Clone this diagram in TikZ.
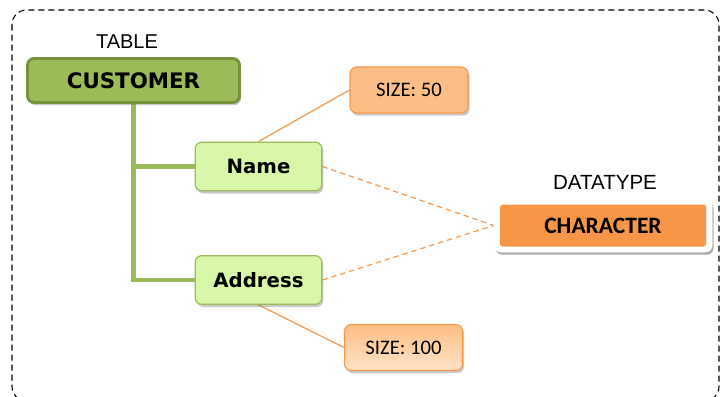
\documentclass[tikz,border=0pt]{standalone}
\usepackage{fontspec}
\setmainfont{Liberation Sans}
\newfontfamily\boxfont{DejaVu Sans}
\newfontfamily\calfont{Carlito}
\usetikzlibrary{shadows,backgrounds}
\definecolor{olgreen}{HTML}{9BBB59}
\definecolor{dkgreen}{HTML}{76923C}
\definecolor{ltgreen}{HTML}{D8F7A8}
\definecolor{orangeB}{HTML}{F79646}
\definecolor{peach}{HTML}{FDBE85}
\definecolor{peachlt}{HTML}{FFE3C8}
\tikzset{
  x=0.75pt, y=-0.75pt,
  shad/.style={drop shadow={shadow xshift=1.2pt, shadow yshift=-2pt, opacity=0.35, fill=black!60}},
  custbox/.style={draw=dkgreen, line width=2.2pt, fill=olgreen, rounded corners=5pt,
    minimum width=159pt, minimum height=33pt, inner sep=0pt, shad,
    font=\boxfont\bfseries\fontsize{16}{18}\selectfont},
  fieldbox/.style={draw=olgreen, line width=0.9pt, fill=ltgreen, rounded corners=5pt,
    minimum width=95pt, minimum height=36.5pt, inner sep=0pt, shad,
    font=\boxfont\bfseries\fontsize{14.8}{17}\selectfont},
  sizebox/.style={draw=orangeB, line width=0.8pt, rounded corners=5pt,
    minimum width=88.5pt, minimum height=34.5pt, inner sep=0pt, shad,
    font=\calfont\fontsize{15.5}{17}\selectfont},
  outerbox/.style={draw=white, fill=white, rounded corners=5pt,
    minimum width=163.5pt, minimum height=39.75pt, inner sep=0pt,
    drop shadow={shadow xshift=1.2pt, shadow yshift=-2pt, opacity=0.45, fill=black!70}},
  innerbox/.style={fill=orangeB, rounded corners=2pt, minimum width=154.5pt, minimum height=31.5pt,
    inner sep=0pt, font=\calfont\bfseries\fontsize{17.6}{19}\selectfont},
  lbl/.style={font=\fontsize{15.4}{17}\selectfont, inner sep=0pt},
  trunk/.style={draw=olgreen, line width=3.6pt},
  oline/.style={draw=orangeB, line width=0.9pt},
  odash/.style={draw=orangeB, line width=0.9pt, dash pattern=on 4pt off 3pt},
}
\begin{document}
\begin{tikzpicture}
\useasboundingbox (0,0) rectangle (720,396);
\begin{scope}
\clip (0,0) rectangle (720,396);
\draw[line width=0.8pt, dash pattern=on 4.5pt off 3pt, rounded corners=11pt] (12,10) rectangle (719,401);
\end{scope}

\node[lbl, font=\fontsize{15}{17}\selectfont] (tablelbl) at (127,42) {TABLE};
\node[lbl] (dtlbl) at (605,182) {DATATYPE};

\node[custbox] (cust) at (133.5,80.5) {CUSTOMER};
\node[fieldbox] (name) at (258.5,166.5) {Name};
\node[fieldbox] (addr) at (258.5,280) {Address};

\node[sizebox, top color=peach, bottom color=peach] (s50) at (409,90) {SIZE: 50};
\node[sizebox, top color=peach, bottom color=peachlt] (s100) at (403.5,347.5) {SIZE: 100};

\node[outerbox] (charo) at (603,225.5) {};
\node[innerbox] (chari) at (charo) {CHARACTER};

\begin{scope}[on background layer]
\draw[trunk] (cust.south) |- (name.west);
\draw[trunk] (cust.south) |- (addr.west);
\draw[oline] (name.north) -- (s50.west);
\draw[oline] (addr.south) -- (s100.west);
\draw[odash] (name.east) -- (charo.west);
\draw[odash] (addr.east) -- (charo.west);
\end{scope}
\end{tikzpicture}
\end{document}
